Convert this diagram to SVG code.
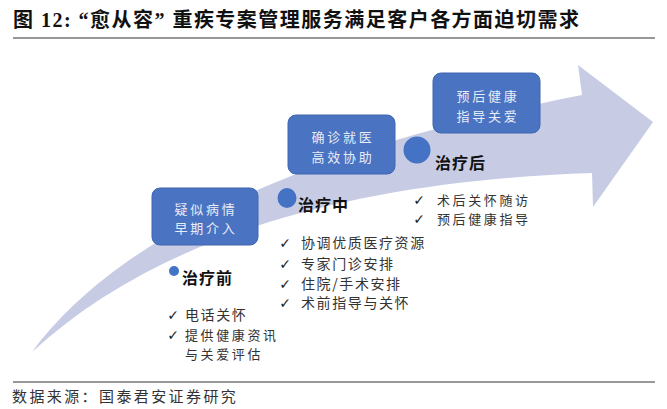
<svg xmlns="http://www.w3.org/2000/svg" width="667" height="409" viewBox="0 0 667 409">
<style>
.title{font-family:"Liberation Serif","Noto Sans CJK SC",serif;font-weight:bold;font-size:20px;fill:#111}
.box{fill:#4a73c2;stroke:#3f66b0;stroke-width:1}
.bt{font-family:"Noto Sans CJK SC",sans-serif;font-size:13px;fill:#e8ecf6;text-anchor:middle;letter-spacing:2.8px}
.lab{font-family:"Noto Sans CJK SC",sans-serif;font-weight:bold;font-size:16px;fill:#111;letter-spacing:1px}
.li{font-family:"Noto Sans CJK SC",sans-serif;font-size:14px;fill:#333;letter-spacing:1.6px}
.li2{font-family:"Noto Sans CJK SC",sans-serif;font-size:13px;fill:#333;letter-spacing:2.6px}
.ck{font-family:"DejaVu Sans",sans-serif;font-size:14px;fill:#222;text-anchor:middle}
.dot{fill:#4472c4}
.src{font-family:"Noto Sans CJK SC",sans-serif;font-size:15px;fill:#333;letter-spacing:2.4px}
</style>
<rect width="667" height="409" fill="#fff"/>
<text class="title" x="13" y="27" textLength="566" lengthAdjust="spacing">图 12: “愈从容” 重疾专案管理服务满足客户各方面迫切需求</text>
<line x1="13" y1="38" x2="655" y2="38" stroke="#333" stroke-width="1.2"/>
<g id="connectors">
<path id="arrow" d="M32 352 C100 260 250 160 582 95 L578 65 L653 122 L593 207 L592 173 C380 180 170 225 32 352 Z" fill="#c7cce4"/>
</g>
<g id="box1"><rect class="box" x="152" y="188" width="106" height="57" rx="8"/>
<text class="bt" x="206" y="213.5">疑似病情</text><text class="bt" x="206" y="232.5">早期介入</text></g>
<g id="box2"><rect class="box" x="288" y="115" width="107" height="59" rx="8"/>
<text class="bt" x="343" y="142">确诊就医</text><text class="bt" x="343" y="162">高效协助</text></g>
<g id="box3"><rect class="box" x="433" y="73" width="107" height="60" rx="8"/>
<text class="bt" x="488" y="101">预后健康</text><text class="bt" x="488" y="121">指导关爱</text></g>
<g id="pre"><circle class="dot" cx="174" cy="271" r="5"/>
<text class="lab" x="182" y="284">治疗前</text>
<text class="ck" x="173" y="320">✓</text><text class="li" x="185" y="320">电话关怀</text>
<text class="ck" x="173" y="339.5">✓</text><text class="li2" x="185" y="339.5">提供健康资讯</text>
<text class="li2" x="185" y="358.5">与关爱评估</text></g>
<g id="mid"><ellipse class="dot" cx="287" cy="198" rx="9.5" ry="10"/>
<text class="lab" x="298" y="211">治疗中</text>
<text class="ck" x="285" y="248">✓</text><text class="li" x="301" y="248">协调优质医疗资源</text>
<text class="ck" x="285" y="269">✓</text><text class="li" x="301" y="269">专家门诊安排</text>
<text class="ck" x="285" y="289">✓</text><text class="li" x="301" y="289">住院/手术安排</text>
<text class="ck" x="285" y="308">✓</text><text class="li" x="301" y="308">术前指导与关怀</text></g>
<g id="post"><circle class="dot" cx="417" cy="150" r="13.5"/>
<text class="lab" x="435" y="169">治疗后</text>
<text class="ck" x="419" y="204.5">✓</text><text class="li2" x="437" y="204.5">术后关怀随访</text>
<text class="ck" x="419" y="223.5">✓</text><text class="li2" x="437" y="223.5">预后健康指导</text></g>
<line x1="13" y1="382" x2="655" y2="382" stroke="#333" stroke-width="1"/>
<text class="src" x="12" y="402">数据来源：国泰君安证券研究</text>
</svg>
